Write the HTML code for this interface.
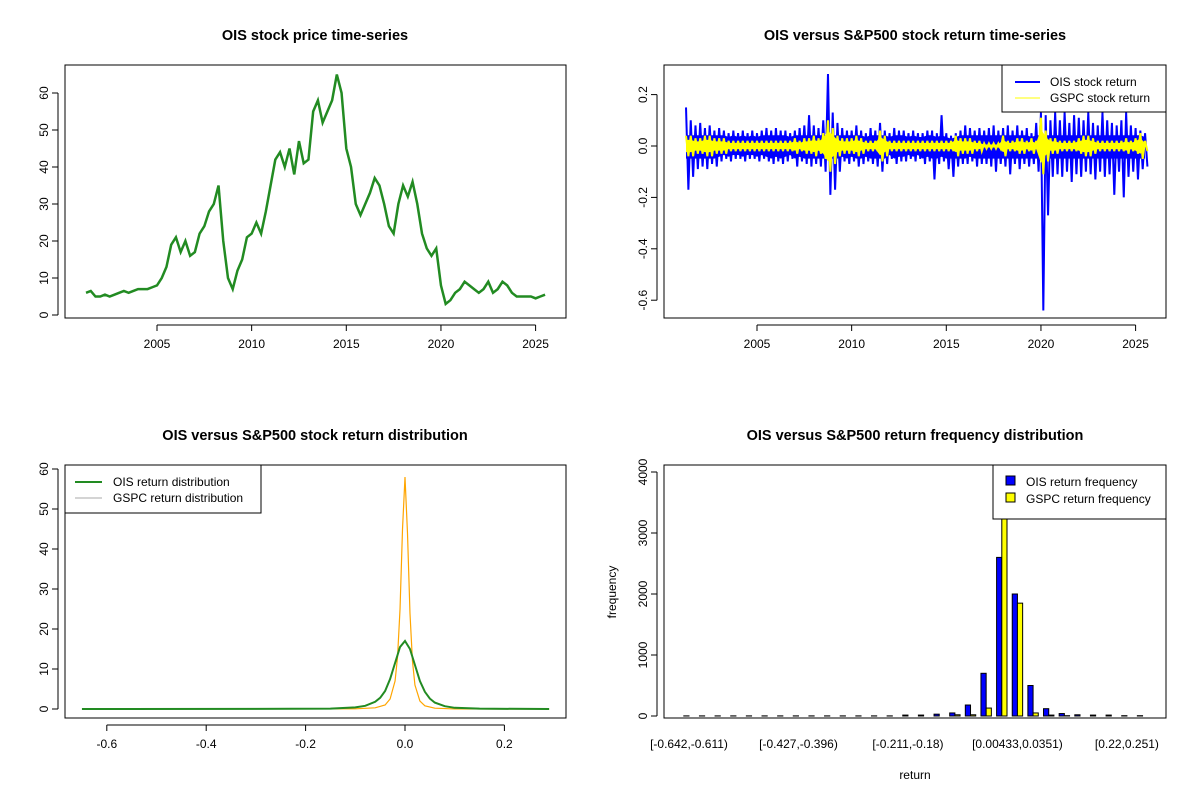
<!DOCTYPE html>
<html><head><meta charset="utf-8"><style>
body{margin:0;background:#fff;}
svg{display:block;font-family:"Liberation Sans",Arial,sans-serif;}
.t{font-size:14.5px;font-weight:bold;text-anchor:middle;}
.k{font-size:12px;}
</style></head><body>
<svg id="s" width="1200" height="800" viewBox="0 0 1200 800">
<rect width="1200" height="800" fill="#fff"/>
<g id="p1"></g>
<g id="p2"></g>
<g id="p3"></g>
<g id="p4"></g>
</svg>
<script>
// ---- data ----
const startYear = 2001.25, stepYear = 0.25;
const oisPrice = [6,6.5,5, 5,5.5,5,5.5, 6,6.5,6,6.5, 7,7,7,7.5, 8,10,13,19, 21,17,20,16, 17,22,24,28, 30,35,20,10, 7,12,15,21, 22,25,22,28, 35,42,44,40, 45,38,47,41, 42,55,58,52, 55,58,65,60, 45,40,30,27, 30,33,37,35, 30,24,22,30, 35,32,36,30, 22,18,16,18, 8,3,4,6, 7,9,8,7, 6,7,9,6, 7,9,8,6, 5,5,5,5, 4.5,5,5.5];
const oisHi = [0.15,0.10,0.08, 0.09,0.07,0.08,0.06, 0.07,0.06,0.05,0.06, 0.05,0.06,0.05,0.06, 0.05,0.06,0.07,0.06, 0.07,0.06,0.06,0.05, 0.06,0.07,0.08,0.12, 0.08,0.07,0.10,0.28, 0.13,0.09,0.07,0.06, 0.06,0.08,0.06,0.05, 0.07,0.06,0.09,0.06, 0.05,0.07,0.06,0.06, 0.05,0.06,0.05,0.05, 0.06,0.06,0.05,0.12, 0.05,0.04,0.05,0.06, 0.08,0.07,0.06,0.07, 0.06,0.07,0.08,0.06, 0.07,0.08,0.06,0.08, 0.06,0.07,0.05,0.09, 0.13,0.12,0.10,0.13, 0.10,0.13,0.09,0.12, 0.11,0.10,0.13,0.09, 0.08,0.13,0.10,0.09, 0.08,0.10,0.13,0.08, 0.07,0.06,0.05];
const oisLo = [-0.17,-0.12,-0.09, -0.08,-0.09,-0.07,-0.08, -0.06,-0.05,-0.06,-0.05, -0.05,-0.06,-0.05,-0.05, -0.06,-0.05,-0.06,-0.07, -0.06,-0.07,-0.06,-0.05, -0.08,-0.06,-0.07,-0.08, -0.07,-0.08,-0.10,-0.19, -0.17,-0.10,-0.06,-0.07, -0.06,-0.08,-0.07,-0.06, -0.07,-0.08,-0.10,-0.07, -0.05,-0.07,-0.06,-0.06, -0.05,-0.06,-0.05,-0.07, -0.06,-0.13,-0.07,-0.06, -0.09,-0.12,-0.08,-0.07, -0.07,-0.06,-0.08,-0.07, -0.07,-0.08,-0.10,-0.07, -0.08,-0.11,-0.07,-0.09, -0.07,-0.08,-0.07,-0.10, -0.64,-0.27,-0.12,-0.11, -0.12,-0.10,-0.14,-0.11, -0.12,-0.10,-0.11,-0.13, -0.10,-0.12,-0.11,-0.19, -0.10,-0.20,-0.12,-0.10, -0.13,-0.09,-0.08];
const gspcAmp = [0.04,0.04,0.03, 0.03,0.04,0.04,0.03, 0.03,0.03,0.02,0.02, 0.02,0.02,0.02,0.02, 0.02,0.02,0.02,0.02, 0.02,0.02,0.02,0.02, 0.03,0.02,0.03,0.03, 0.04,0.03,0.05,0.10, 0.07,0.04,0.03,0.03, 0.03,0.04,0.03,0.02, 0.02,0.02,0.06,0.04, 0.02,0.02,0.02,0.02, 0.02,0.02,0.02,0.02, 0.02,0.02,0.02,0.02, 0.02,0.02,0.04,0.03, 0.03,0.03,0.02,0.02, 0.01,0.01,0.01,0.01, 0.04,0.02,0.02,0.03, 0.03,0.02,0.03,0.02, 0.11,0.06,0.03,0.03, 0.02,0.02,0.02,0.02, 0.03,0.04,0.04,0.03, 0.02,0.02,0.02,0.02, 0.02,0.02,0.03,0.02, 0.03,0.05,0.02];
const yearTicks = [2005,2010,2015,2020,2025];
const priceTicks = [0,10,20,30,40,50,60];
const retTicks = [-0.6,-0.4,-0.2,0,0.2];
const oisDensX = [-0.65,-0.3,-0.15,-0.1,-0.08,-0.06,-0.05,-0.04,-0.03,-0.02,-0.01,0,0.01,0.02,0.03,0.04,0.05,0.06,0.08,0.1,0.15,0.29];
const oisDensY = [0,0.02,0.1,0.4,0.8,1.8,2.8,4.5,7.5,11.5,15.5,17,15,11,7,4.3,2.6,1.6,0.7,0.3,0.08,0];
const gspcDensX = [-0.65,-0.1,-0.06,-0.04,-0.03,-0.02,-0.015,-0.01,-0.005,0,0.005,0.01,0.015,0.02,0.03,0.04,0.06,0.1,0.29];
const gspcDensY = [0,0.05,0.3,1,2.5,7,13,25,45,58,44,24,12,6,2,0.8,0.2,0.02,0];
const densXTicks = [-0.6,-0.4,-0.2,0,0.2];
const densYTicks = [0,10,20,30,40,50,60];
const oisFreq = [2,2,2,2,2,2,2,2,2,2,2,2,2,2,15,15,30,50,180,700,2600,2000,500,120,40,20,15,15,5,5];
const gspcFreq = [0,0,0,0,0,0,0,0,0,0,0,0,0,0,0,0,0,20,20,130,4100,1850,50,15,5,0,0,0,0,0];
const binLabels = ["[-0.642,-0.611)","[-0.427,-0.396)","[-0.211,-0.18)","[0.00433,0.0351)","[0.22,0.251)"];
const binLabelIdx = [0,7,14,21,28];
const freqTicks = [0,1000,2000,3000,4000];

const NS="http://www.w3.org/2000/svg";
function mk(p,tag,a,txt){const e=document.createElementNS(NS,tag);for(const k in a)e.setAttribute(k,a[k]);if(txt!==undefined)e.textContent=txt;p.appendChild(e);return e;}
function frame(g,x0,y0,x1,y1){const r=mk(g,'rect',{x:x0,y:y0,width:x1-x0,height:y1-y0,fill:'none',stroke:'#000','stroke-width':1});

}
function yAxis(g,ticks,fy,x0,fmt){const a=mk(g,'line',{x1:x0-7,x2:x0-7,y1:fy(ticks[0]),y2:fy(ticks[ticks.length-1]),stroke:'#000'});


ticks.forEach(v=>{const y=fy(v);mk(g,'line',{x1:x0-13,x2:x0-7,y1:y,y2:y,stroke:'#000'});
const t=mk(g,'text',{x:x0-17,y:y,class:'k','text-anchor':'middle',transform:`rotate(-90 ${x0-17} ${y})`},fmt?fmt(v):String(v));

});}
function xAxis(g,ticks,fx,y0,fmt){const a=mk(g,'line',{x1:fx(ticks[0]),x2:fx(ticks[ticks.length-1]),y1:y0+7,y2:y0+7,stroke:'#000'});


ticks.forEach(v=>{const x=fx(v);mk(g,'line',{x1:x,x2:x,y1:y0+7,y2:y0+13,stroke:'#000'});
const t=mk(g,'text',{x:x,y:y0+30,class:'k','text-anchor':'middle'},fmt?fmt(v):String(v));

});}
function title(g,x,y,s){const t=mk(g,'text',{x:x,y:y,class:'t'},s);

}
const yearAt=i=>startYear+i*stepYear;

// ---- panel 1 ----
{const g=document.getElementById('p1');
const fx=y=>157+(y-2005)*18.93, fy=v=>315-v*3.7;
frame(g,65,65,566,318);
title(g,315,40,'OIS stock price time-series');
yAxis(g,priceTicks,fy,65);xAxis(g,yearTicks,fx,318);
const pl=mk(g,'polyline',{points:oisPrice.map((v,i)=>fx(yearAt(i))+','+fy(v)).join(' '),fill:'none',stroke:'#228B22','stroke-width':2.5});

}

// ---- panel 2 ----
{const g=document.getElementById('p2');
const fx=y=>757+(y-2005)*18.93, fy=v=>146-v*257;
frame(g,664,65,1166,318);
title(g,915,40,'OIS versus S&P500 stock return time-series');
yAxis(g,retTicks,fy,664,v=>v.toFixed(1));xAxis(g,yearTicks,fx,318);
// dense core band (rendering of the envelope)
const up=oisHi.map((v,i)=>fx(yearAt(i))+','+fy(Math.min(v,0.06)*0.7));
const dn=oisLo.map((v,i)=>fx(yearAt(i))+','+fy(Math.max(v,-0.07)*0.7)).reverse();
const band=mk(g,'polygon',{points:up.concat(dn).join(' '),fill:'#0000ff'});


let pts=[];oisHi.forEach((v,i)=>{pts.push(fx(yearAt(i))+','+fy(v));pts.push(fx(yearAt(i)+0.125)+','+fy(oisLo[i]));});
const bl=mk(g,'polyline',{points:pts.join(' '),fill:'none',stroke:'#0000ff','stroke-width':2});


const gu=gspcAmp.map((v,i)=>fx(yearAt(i))+','+fy(v*0.6));
const gd=gspcAmp.map((v,i)=>fx(yearAt(i))+','+fy(-v*0.6)).reverse();
const gb=mk(g,'polygon',{points:gu.concat(gd).join(' '),fill:'#ffff00'});


let p2=[];gspcAmp.forEach((v,i)=>{p2.push(fx(yearAt(i))+','+fy(v));p2.push(fx(yearAt(i)+0.125)+','+fy(-v));});
const yl=mk(g,'polyline',{points:p2.join(' '),fill:'none',stroke:'#ffff00','stroke-width':2});


const lg=mk(g,'g',{});


mk(lg,'rect',{x:1002,y:65,width:164,height:47,fill:'#fff',stroke:'#000'});
mk(lg,'line',{x1:1015,x2:1040,y1:82,y2:82,stroke:'#0000ff','stroke-width':2});
mk(lg,'line',{x1:1015,x2:1040,y1:98,y2:98,stroke:'#ffff00','stroke-width':1});
mk(lg,'text',{x:1050,y:86,class:'k'},'OIS stock return');
mk(lg,'text',{x:1050,y:102,class:'k'},'GSPC stock return');}

// ---- panel 3 ----
{const g=document.getElementById('p3');
const fx=x=>405+x*497, fy=v=>709-v*4;
frame(g,65,465,566,718);
title(g,315,440,'OIS versus S&P500 stock return distribution');
yAxis(g,densYTicks,fy,65);xAxis(g,densXTicks,fx,718,v=>v.toFixed(1));
const go=mk(g,'polyline',{points:gspcDensX.map((x,i)=>fx(x)+','+fy(gspcDensY[i])).join(' '),fill:'none',stroke:'#FFA500','stroke-width':1.2});


const gr=mk(g,'polyline',{points:oisDensX.map((x,i)=>fx(x)+','+fy(oisDensY[i])).join(' '),fill:'none',stroke:'#228B22','stroke-width':2});


const lg=mk(g,'g',{});


mk(lg,'rect',{x:65,y:465,width:196,height:48,fill:'#fff',stroke:'#000'});
mk(lg,'line',{x1:75,x2:102,y1:482,y2:482,stroke:'#228B22','stroke-width':2});
mk(lg,'line',{x1:75,x2:102,y1:498,y2:498,stroke:'#aaa','stroke-width':1});
mk(lg,'text',{x:113,y:486,class:'k'},'OIS return distribution');
mk(lg,'text',{x:113,y:502,class:'k'},'GSPC return distribution');}

// ---- panel 4 ----
{const g=document.getElementById('p4');
const fy=v=>716-v*0.061, gc=i=>689+i*15.64, bw=5.2;
frame(g,664,465,1166,718);
title(g,915,440,'OIS versus S&P500 return frequency distribution');
yAxis(g,freqTicks,fy,664);
oisFreq.forEach((v,i)=>{const r=mk(g,'rect',{x:gc(i)-bw,y:fy(v),width:bw,height:Math.max(0,716-fy(v)),fill:'#0000ff',stroke:'#000','stroke-width':1});

});
gspcFreq.forEach((v,i)=>{const r=mk(g,'rect',{x:gc(i),y:fy(v),width:bw,height:Math.max(0,716-fy(v)),fill:'#ffff00',stroke:'#000','stroke-width':1});

});
binLabels.forEach((s,j)=>{const t=mk(g,'text',{x:gc(binLabelIdx[j]),y:748,class:'k','text-anchor':'middle'},s);

});
const xl=mk(g,'text',{x:915,y:779,class:'k','text-anchor':'middle'},'return');


const yt=mk(g,'text',{x:616,y:592,class:'k','text-anchor':'middle',transform:'rotate(-90 616 592)'},'frequency');


const lg=mk(g,'g',{});


mk(lg,'rect',{x:993,y:465,width:173,height:54,fill:'#fff',stroke:'#000'});
mk(lg,'rect',{x:1006,y:476,width:9,height:9,fill:'#0000ff',stroke:'#000'});
mk(lg,'rect',{x:1006,y:493,width:9,height:9,fill:'#ffff00',stroke:'#000'});
mk(lg,'text',{x:1026,y:486,class:'k'},'OIS return frequency');
mk(lg,'text',{x:1026,y:503,class:'k'},'GSPC return frequency');}
</script>
</body></html>
